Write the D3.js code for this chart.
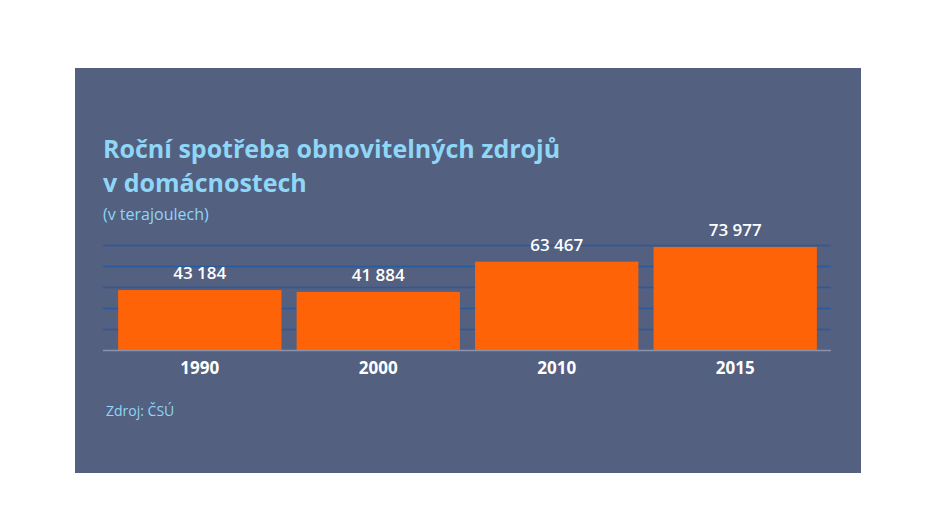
<!DOCTYPE html>
<html><head><meta charset="utf-8">
<script src="https://cdn.jsdelivr.net/npm/d3@7"></script>
<style>body{margin:0;background:#fff;}svg{display:block;font-family:"Open Sans",sans-serif;}</style>
</head><body><svg id="c" width="936" height="526"></svg>
<script>
const categories = ["1990","2000","2010","2015"];
const values = [43184, 41884, 63467, 73977];
const gridTicks = [15000, 30000, 45000, 60000, 75000];
const labels = ["43 184","41 884","63 467","73 977"];

const svg = d3.select("#c");
svg.append("rect").attr("x",75).attr("y",68).attr("width",786).attr("height",405).attr("fill","#536080");
svg.append("text").attr("x",103).attr("y",158).attr("font-size",25).attr("font-weight",700).attr("fill","#8fd6f7").text("Roční spotřeba obnovitelných zdrojů");
svg.append("text").attr("x",103).attr("y",192).attr("font-size",25).attr("font-weight",700).attr("fill","#8fd6f7").text("v domácnostech");
svg.append("text").attr("x",103).attr("y",220).attr("font-size",16).attr("fill","#8fd6f7").text("(v terajoulech)");

const x = d3.scaleBand().domain(categories).range([111,824]).paddingInner(0.085).paddingOuter(0.04);
const y = d3.scaleLinear().domain([0,75000]).range([350.5,245.5]);

svg.selectAll(".g").data(gridTicks).enter().append("line")
  .attr("x1",103).attr("x2",831).attr("y1",d=>y(d)).attr("y2",d=>y(d))
  .attr("stroke","#2a5a9e").attr("stroke-width",1.6);
svg.selectAll(".b").data(values).enter().append("rect")
  .attr("x",(d,i)=>x(categories[i])).attr("width",x.bandwidth())
  .attr("y",d=>y(d)).attr("height",d=>y(0)-y(d)).attr("fill","#ff6308");
svg.append("line").attr("x1",103).attr("x2",831).attr("y1",y(0)).attr("y2",y(0)).attr("stroke","#8a93ad").attr("stroke-width",1.5);
svg.selectAll(".v").data(values).enter().append("text")
  .attr("x",(d,i)=>x(categories[i])+x.bandwidth()/2).attr("y",d=>y(d)-11)
  .attr("text-anchor","middle").attr("font-size",17).attr("font-weight",600).attr("fill","#fff")
  .text((d,i)=>labels[i]);
svg.selectAll(".c").data(categories).enter().append("text")
  .attr("x",d=>x(d)+x.bandwidth()/2).attr("y",374)
  .attr("text-anchor","middle").attr("font-size",17).attr("font-weight",700).attr("fill","#fff").text(d=>d);
svg.append("text").attr("x",106).attr("y",416).attr("font-size",14).attr("fill","#8fd6f7").text("Zdroj: ČSÚ");
</script></body></html>
